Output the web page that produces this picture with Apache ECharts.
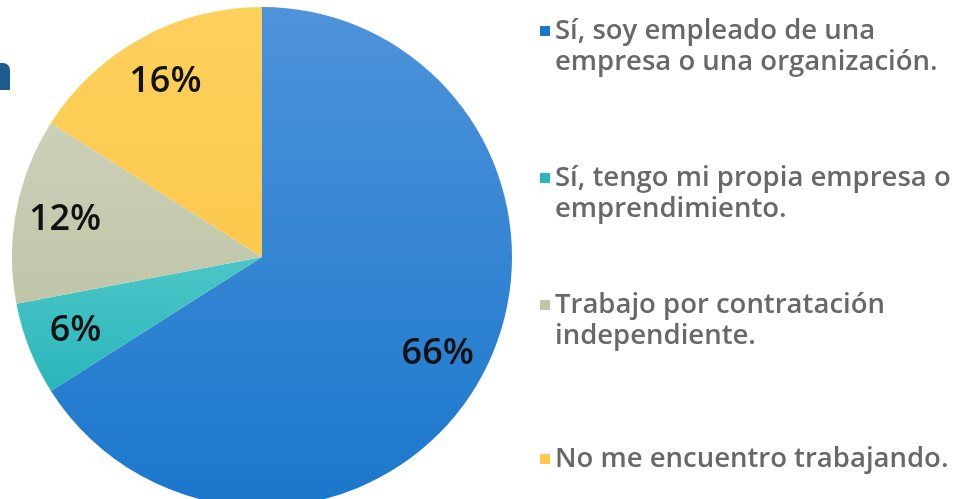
<!DOCTYPE html>
<html>
<head>
<meta charset="utf-8">
<script src="https://cdn.jsdelivr.net/npm/echarts@6/dist/echarts.min.js"></script>
<style>
  html, body { margin: 0; padding: 0; background: #fff; }
  #chart { width: 957px; height: 499px; }
</style>
</head>
<body>
<div id="chart"></div>
<script>
// categories and shares (%), clockwise from 12 o'clock
const categories = [
    'Sí, soy empleado de una\nempresa o una organización.',
    'Sí, tengo mi propia empresa o\nemprendimiento.',
    'Trabajo por contratación\nindependiente.',
    'No me encuentro trabajando.'
]
const shares = [66, 6, 12, 16]
const sliceColors = [
    ['#4e93da', '#1b77cc'],
    ['#4cc6c6', '#2ab6bb'],
    ['#cbd0b8', '#c0c6a8'],
    ['#fed05c', '#fcc94d']
]
// icon centre y of each legend entry
const legendY = [31, 178, 305, 459]

function grad(c) {
    return new echarts.graphic.LinearGradient(0, 0, 0, 1, [
        { offset: 0, color: c[0] },
        { offset: 1, color: c[1] }
    ])
}

const chart = echarts.init(document.getElementById('chart'))

const pieData = categories.map((name, i) => ({
    name: name,
    value: shares[i],
    itemStyle: { color: grad(sliceColors[i]) }
}))

const labelData = categories.map((name, i) => ({ name: name, value: shares[i] }))

const LH = 31
const legends = categories.map((name, i) => {
    let twoLines = name.indexOf('\n') >= 0
    // a blank first line keeps the icon level with the first text line
    let half = twoLines ? LH * 1.5 : LH / 2
    return {
        data: [{ name: name, itemStyle: { color: sliceColors[i][1] } }],
        left: 540,
        top: legendY[i] - half,
        orient: 'vertical',
        icon: 'rect',
        itemWidth: 10,
        itemHeight: 10,
        padding: 0,
        selectedMode: false,
        formatter: n => (n.indexOf('\n') >= 0 ? ' \n' + n : n),
        textStyle: {
            fontFamily: 'Open Sans',
            fontWeight: 600,
            fontSize: 27.5,
            lineHeight: LH,
            color: '#686868'
        }
    }
})

const option = {
    animation: false,
    legend: legends,
    graphic: [{
        type: 'rect',
        shape: { x: -10, y: 63, width: 20, height: 27, r: [0, 7, 0, 0] },
        style: { fill: '#1d5a8e' }
    }],
    series: [{
        type: 'pie',
        center: [262, 257],
        radius: 250,
        startAngle: 90,
        clockwise: true,
        silent: true,
        label: { show: false },
        labelLine: { show: false },
        data: pieData
    }, {
        // transparent ring just to place the percentage labels
        type: 'pie',
        center: [262, 257],
        radius: [145, 250],
        startAngle: 90,
        clockwise: true,
        silent: true,
        legendHoverLink: false,
        itemStyle: { color: 'rgba(0,0,0,0)' },
        label: {
            show: true,
            position: 'inside',
            formatter: '{c}%',
            fontFamily: 'Open Sans',
            fontWeight: 600,
            fontSize: 36,
            color: '#111'
        },
        labelLine: { show: false },
        data: labelData
    }]
}

chart.setOption(option)
</script>
</body>
</html>
